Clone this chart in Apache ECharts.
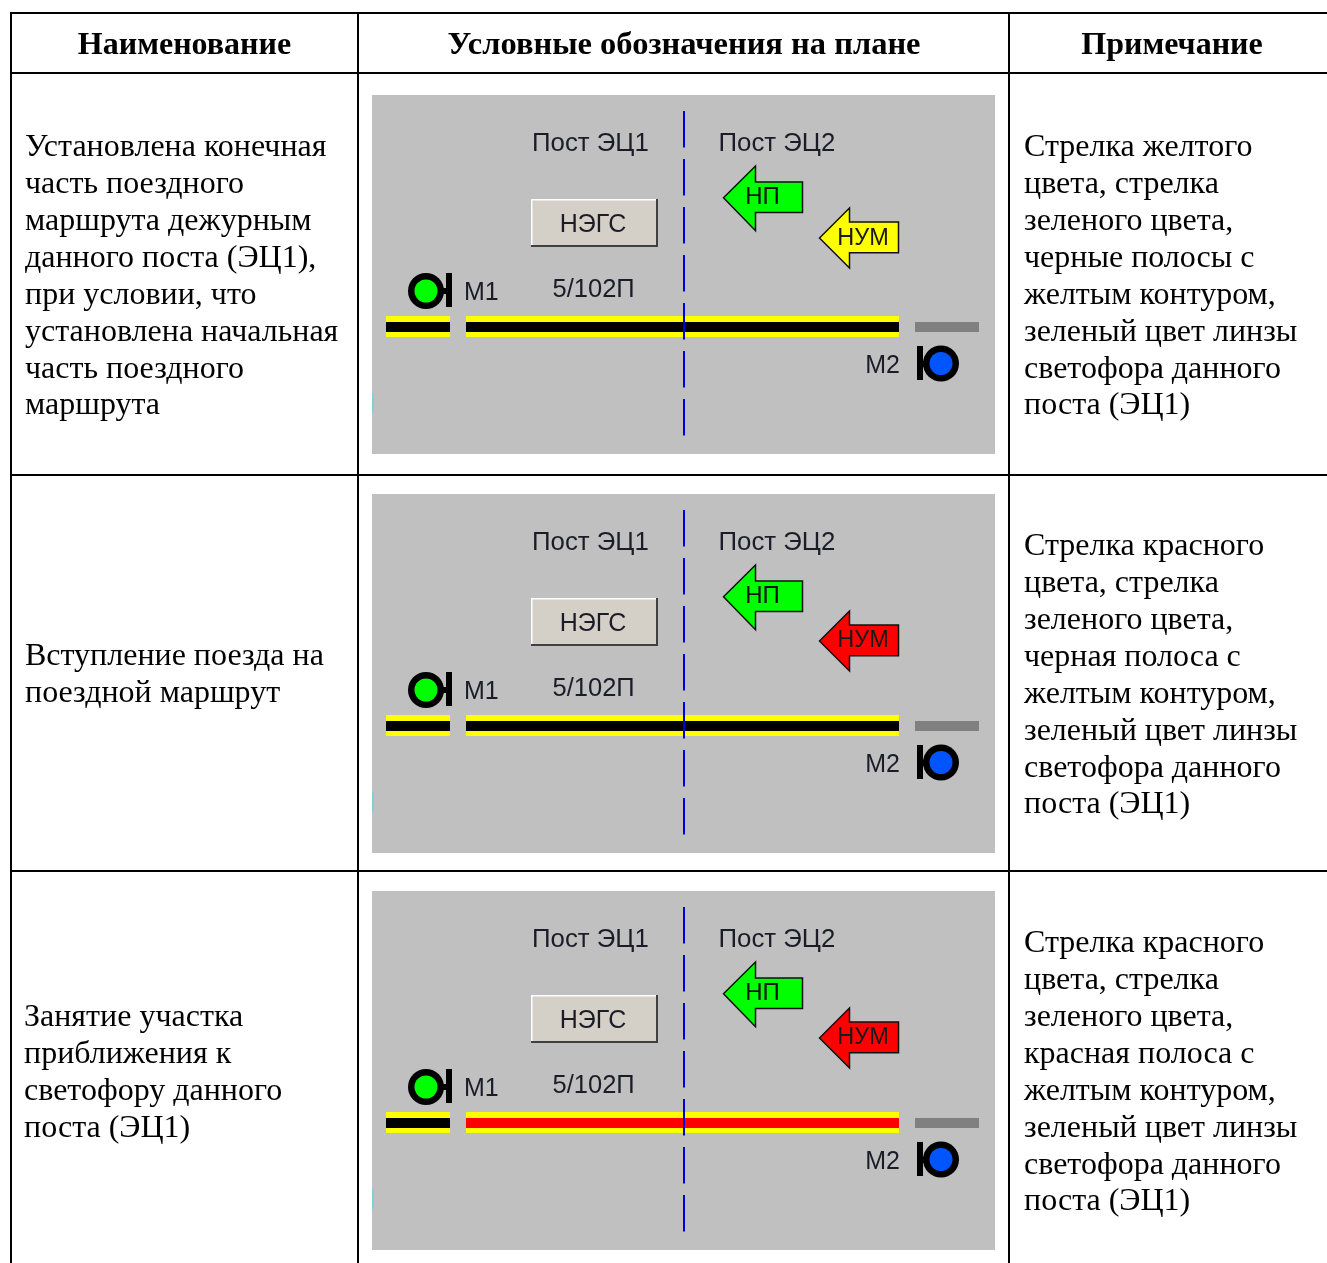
<!DOCTYPE html>
<html lang="ru">
<head>
<meta charset="utf-8">
<title>Условные обозначения</title>
<style>html,body{margin:0;padding:0;background:#fff}#c{width:1327px;height:1263px}</style>
<script src="https://cdn.jsdelivr.net/npm/echarts@6/dist/echarts.min.js"></script>
</head>
<body>
<div id="c"></div>
<script>
const headers = ['Наименование', 'Условные обозначения на плане', 'Примечание'];
const rowNames = [
  ['Установлена конечная', 'часть поездного', 'маршрута дежурным', 'данного поста (ЭЦ1),', 'при условии, что', 'установлена начальная', 'часть поездного', 'маршрута'],
  ['Вступление поезда на', 'поездной маршрут'],
  ['Занятие участка', 'приближения к', 'светофору данного', 'поста (ЭЦ1)']
];
const rowNotes = [
  ['Стрелка желтого', 'цвета, стрелка', 'зеленого цвета,', 'черные полосы с', 'желтым контуром,', 'зеленый цвет линзы', 'светофора данного', 'поста (ЭЦ1)'],
  ['Стрелка красного', 'цвета, стрелка', 'зеленого цвета,', 'черная полоса с', 'желтым контуром,', 'зеленый цвет линзы', 'светофора данного', 'поста (ЭЦ1)'],
  ['Стрелка красного', 'цвета, стрелка', 'зеленого цвета,', 'красная полоса с', 'желтым контуром,', 'зеленый цвет линзы', 'светофора данного', 'поста (ЭЦ1)']
];
const postLabels = ['Пост ЭЦ1', 'Пост ЭЦ2'];
const buttonLabel = 'НЭГС';
const trackLabel = '5/102П';
const signalLabels = ['М1', 'М2'];
const arrowLabels = ['НП', 'НУМ'];
const numArrowColors = ['#ffff00', '#ff0000', '#ff0000'];
const mainTrackColors = ['#000000', '#000000', '#ff0000'];

const W = 1327, H = 1263;
const SERIF = '"Liberation Serif","Times New Roman",serif';
const SANS = '"Liberation Sans",Arial,sans-serif';
const panelTops = [95, 494, 891];
const nameFirstLine = [148, 657, 1018];
const noteFirstLine = [148, 547, 944];
const nameX = [25, 25, 24];
const lineStep = 36.85;

function tools(api) {
  const P = (x, y) => api.coord([x, y]);
  return {
    rect(x0, y0, x1, y1, fill) {
      const a = P(x0, y0), b = P(x1, y1);
      return {type: 'rect', shape: {x: a[0], y: a[1], width: b[0] - a[0], height: b[1] - a[1]}, style: {fill}};
    },
    circle(x, y, r, fill) {
      const a = P(x, y);
      return {type: 'circle', shape: {cx: a[0], cy: a[1], r}, style: {fill}};
    },
    poly(points, fill) {
      return {type: 'polygon', shape: {points: points.map(p => P(p[0], p[1]))},
        style: {fill, stroke: '#111', lineWidth: 1.5, lineJoin: 'miter'}};
    },
    text(x, y, text, font, size, weight, fill, align) {
      const a = P(x, y);
      return {type: 'text', style: {x: a[0], y: a[1], text, fill, align: align || 'left', verticalAlign: 'middle',
        fontFamily: font, fontSize: size, fontWeight: weight || 'normal'}};
    }
  };
}

function renderTable(params, api) {
  const t = tools(api);
  const c = [];
  [[10, 12, W, 14], [10, 72, W, 74], [10, 474, W, 476], [10, 870, W, 872]].forEach(r => c.push(t.rect(r[0], r[1], r[2], r[3], '#000')));
  [[10, 12], [357, 359], [1008, 1010]].forEach(v => c.push(t.rect(v[0], 12, v[1], H, '#000')));
  const hx = [184.5, 684, 1172];
  const hs = [32, 32.5, 32];
  headers.forEach((h, i) => c.push(t.text(hx[i], 46, h, SERIF, hs[i], 'bold', '#000', 'center')));
  rowNames.forEach((lines, r) => lines.forEach((s, i) =>
    c.push(t.text(nameX[r], nameFirstLine[r] + i * lineStep, s, SERIF, 32, 'normal', '#000'))));
  rowNotes.forEach((lines, r) => lines.forEach((s, i) =>
    c.push(t.text(1024, noteFirstLine[r] + i * lineStep, s, SERIF, 32, 'normal', '#000'))));
  return {type: 'group', children: c};
}

function renderPlan(params, api) {
  const r = api.value(0);
  const t = tools(api);
  const y0 = panelTops[r];
  const Y = v => y0 + v;   // v is measured from the panel's top edge
  const dark = '#1c1c28';
  const c = [];
  c.push(t.rect(372, Y(0), 995, Y(359), '#c0c0c0'));
  c.push(t.rect(372, Y(298), 374, Y(318), '#80d0d0'));

  // track
  c.push(t.rect(386, Y(221), 450, Y(242), '#ffff00'));
  c.push(t.rect(386, Y(227), 450, Y(237), '#000'));
  c.push(t.rect(466, Y(221), 899, Y(242), '#ffff00'));
  c.push(t.rect(466, Y(227), 899, Y(237), mainTrackColors[r]));
  c.push(t.rect(915, Y(227), 979, Y(237), '#808080'));

  // border of posts
  for (let i = 0; i < 7; i++) {
    c.push(t.rect(683, Y(16 + i * 48), 685, Y(52.5 + i * 48), '#0000e0'));
  }

  c.push(t.text(532, Y(48.5), postLabels[0], SANS, 25.8, 'normal', dark));
  c.push(t.text(718.5, Y(48.5), postLabels[1], SANS, 25.8, 'normal', dark));

  // button
  c.push(t.rect(531, Y(104), 658, Y(152), '#404040'));
  c.push(t.rect(531, Y(104), 656, Y(150), '#ffffff'));
  c.push(t.rect(532.5, Y(105.5), 656, Y(150), '#d4d0c8'));
  c.push(t.text(593, Y(130.5), buttonLabel, SANS, 25, 'normal', dark, 'center'));

  // signals
  c.push(t.rect(446, Y(178), 452, Y(212), '#000'));
  c.push(t.rect(440, Y(193), 448, Y(199), '#000'));
  c.push(t.circle(426, Y(196), 18, '#000'));
  c.push(t.circle(426, Y(196), 11.5, '#00ff00'));
  c.push(t.text(464, Y(198.5), signalLabels[0], SANS, 25, 'normal', dark));
  c.push(t.text(552.5, Y(194.5), trackLabel, SANS, 25.5, 'normal', dark));

  c.push(t.rect(917, Y(251), 923, Y(285), '#000'));
  c.push(t.rect(921, Y(266), 928, Y(272), '#000'));
  c.push(t.circle(941, Y(268.5), 18, '#000'));
  c.push(t.circle(941, Y(268.5), 11.5, '#0055ff'));
  c.push(t.text(900, Y(271.5), signalLabels[1], SANS, 25, 'normal', dark, 'right'));

  // arrows
  c.push(t.poly([[723.5, Y(102.7)], [755.5, Y(71)], [755.5, Y(87)], [802.5, Y(87)], [802.5, Y(117.5)], [755.5, Y(117.5)], [755.5, Y(135.7)]], '#00ff00'));
  c.push(t.text(762.5, Y(102.5), arrowLabels[0], SANS, 24, 'normal', '#111', 'center'));
  const d = r === 0 ? 0 : 4;
  c.push(t.poly([[819.5, Y(143 + d)], [849.5, Y(113 + d)], [849.5, Y(127 + d)], [898.5, Y(127 + d)], [898.5, Y(157.7 + d)], [849.5, Y(157.7 + d)], [849.5, Y(173 + d)]], numArrowColors[r]));
  c.push(t.text(863, Y(143.5 + (r === 0 ? 0 : 3)), arrowLabels[1], SANS, 23.5, 'normal', '#1a1a1a', 'center'));
  return {type: 'group', children: c};
}

const chart = echarts.init(document.getElementById('c'), null, {renderer: 'canvas'});
chart.setOption({
  animation: false,
  backgroundColor: '#ffffff',
  grid: {left: 0, right: 0, top: 0, bottom: 0, containLabel: false},
  xAxis: {type: 'value', min: 0, max: W, show: false},
  yAxis: {type: 'value', min: 0, max: H, inverse: true, show: false},
  tooltip: {show: false},
  series: [
    {type: 'custom', name: 'table', coordinateSystem: 'cartesian2d', clip: false, silent: true,
      renderItem: renderTable, data: [[0]], encode: {x: 0, y: 0}},
    {type: 'custom', name: 'plan', coordinateSystem: 'cartesian2d', clip: false, silent: true,
      renderItem: renderPlan, data: rowNames.map((_, i) => [i]), encode: {x: 0, y: 0}}
  ]
});
</script>
</body>
</html>
